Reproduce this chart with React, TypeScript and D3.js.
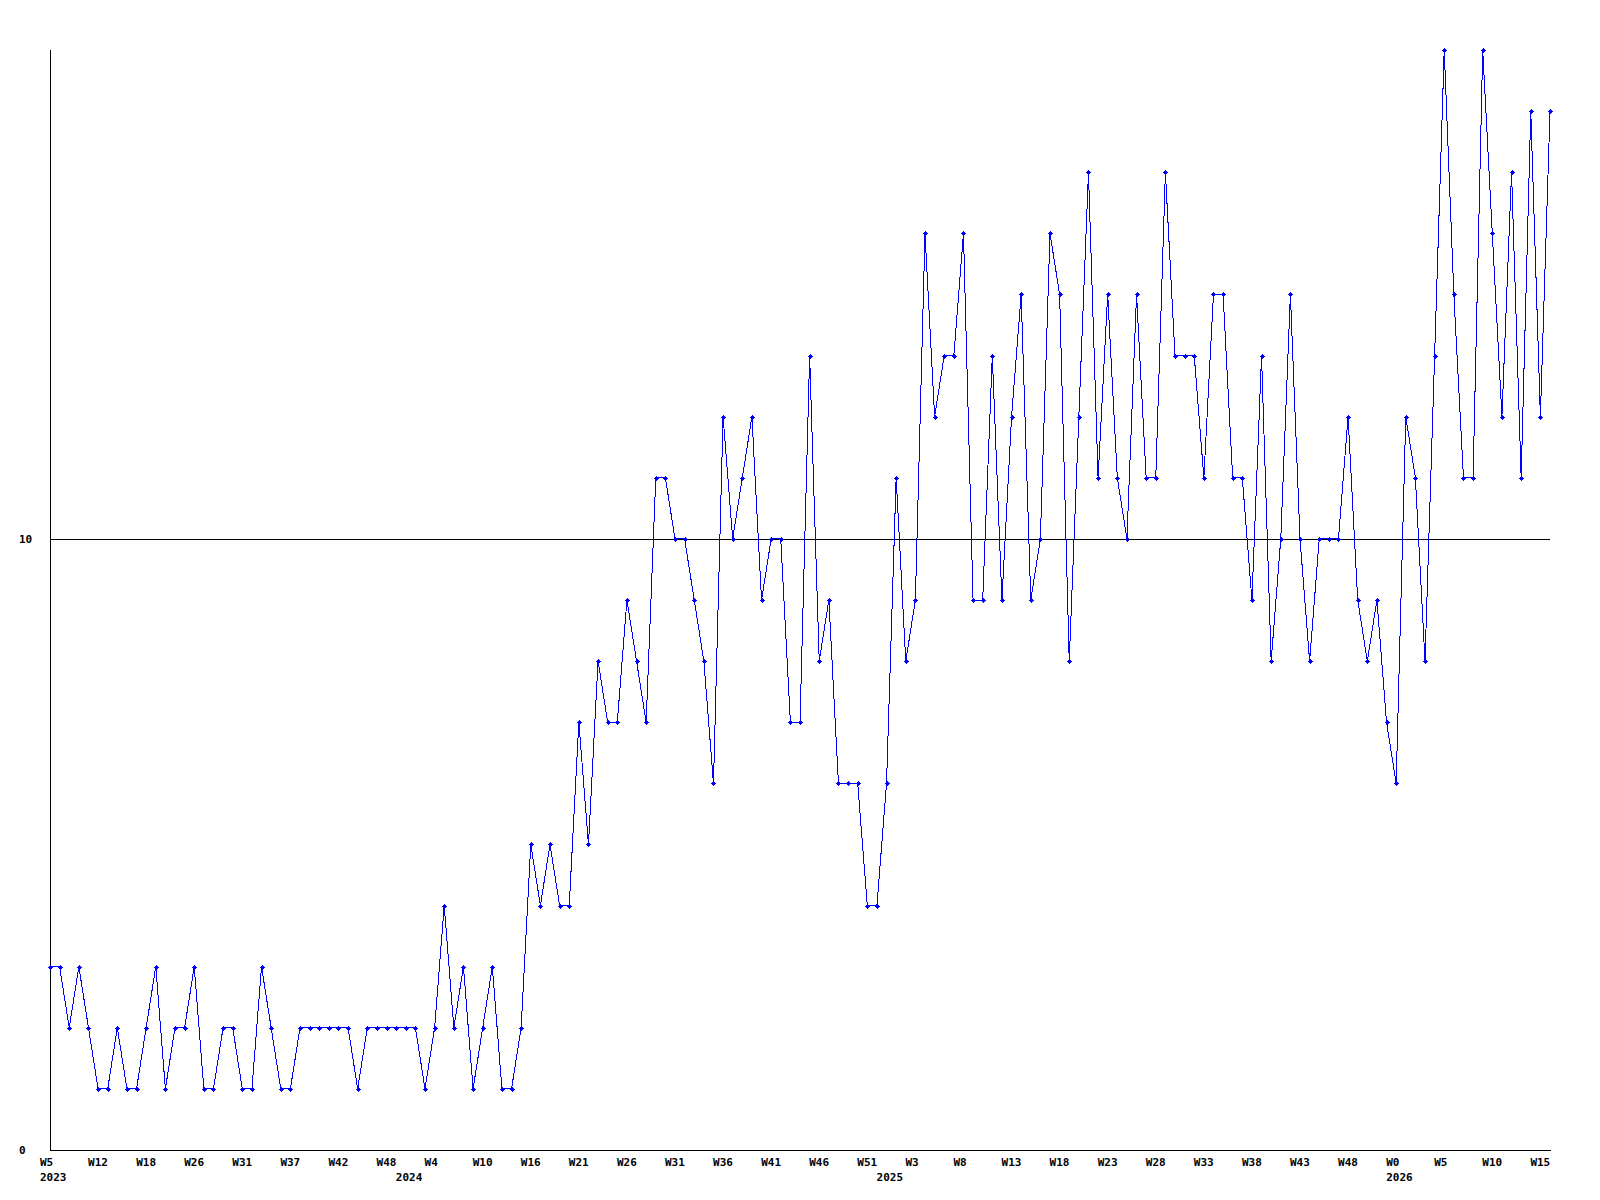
import React from "react";
import * as d3 from "d3";

const values: number[] = [
  3, 3, 2, 3, 2, 1, 1, 2, 1, 1, 2, 3, 1, 2, 2, 3, 1, 1, 2, 2,
  1, 1, 3, 2, 1, 1, 2, 2, 2, 2, 2, 2, 1, 2, 2, 2, 2, 2, 2, 1,
  2, 4, 2, 3, 1, 2, 3, 1, 1, 2,
  5, 4, 5, 4, 4, 7, 5, 8, 7, 7, 9, 8, 7, 11, 11, 10, 10, 9, 8, 6,
  12, 10, 11, 12, 9, 10, 10, 7, 7, 13, 8, 9, 6, 6, 6, 4, 4, 6, 11,
  8, 9, 15, 12, 13, 13, 15, 9, 9, 13, 9, 12, 14, 9, 10, 15, 14, 8, 12, 16,
  11, 14, 11, 10, 14, 11, 11, 16, 13, 13, 13, 11, 14, 14, 11, 11, 9, 13, 8,
  10, 14, 10, 8, 10, 10, 10, 12, 9, 8, 9, 7, 6, 12, 11, 8, 13, 18, 14, 11,
  11, 18, 15, 12, 16, 11, 17, 12, 17,
];

const weekLabels: string[] = [
  "W5", "W12", "W18", "W26", "W31", "W37", "W42", "W48", "W4", "W10", "W16",
  "W21", "W26", "W31", "W36", "W41", "W46", "W51", "W3", "W8", "W13", "W18",
  "W23", "W28", "W33", "W38", "W43", "W48", "W0", "W5", "W10", "W15",
];
const weekLabelStep = 5;

const yearLabels: string[] = ["2023", "2024", "2025", "2026"];
const yearIndices: number[] = [0, 37, 87, 140];

const yTicks: number[] = [0, 10];
const yMax = 18;

const W = 1600;
const H = 1200;
const left = 50;
const right = 1550;
const top = 50;
const bottom = 1150;

export default function App() {
  const x = d3.scaleLinear().domain([0, values.length - 1]).range([left, right]);
  const y = d3.scaleLinear().domain([0, yMax]).range([bottom, top]);
  const line = d3
    .line<number>()
    .x((_, i) => x(i))
    .y((d) => y(d));

  const font = "'DejaVu Sans Mono', monospace";

  return (
    <svg
      width={W}
      height={H}
      style={{ position: "absolute", left: 0, top: 0, background: "#fff" }}
    >
      <rect x={0} y={0} width={W} height={H} fill="#fff" />
      {/* horizontal reference line at 10 */}
      <line
        x1={left}
        x2={right}
        y1={Math.round(y(10)) + 0.5}
        y2={Math.round(y(10)) + 0.5}
        stroke="#000"
        strokeWidth={1}
        shapeRendering="crispEdges"
      />
      {/* axes */}
      <line x1={left + 0.5} x2={left + 0.5} y1={top} y2={bottom + 1} stroke="#000" shapeRendering="crispEdges" />
      <line x1={left} x2={right + 1} y1={bottom + 0.5} y2={bottom + 0.5} stroke="#000" shapeRendering="crispEdges" />

      {yTicks.map((t) => (
        <text
          key={t}
          x={19}
          y={y(t) + 4}
          fontFamily={font}
          fontWeight="bold"
          fontSize={11}
          fill="#000"
        >
          {t}
        </text>
      ))}

      {weekLabels.map((lab, k) => (
        <text
          key={"w" + k}
          x={x(k * weekLabelStep) - 10}
          y={1166}
          fontFamily={font}
          fontWeight="bold"
          fontSize={11}
          fill="#000"
        >
          {lab}
        </text>
      ))}
      {yearLabels.map((lab, k) => (
        <text
          key={"y" + k}
          x={x(yearIndices[k]) - 10}
          y={1181}
          fontFamily={font}
          fontWeight="bold"
          fontSize={11}
          fill="#000"
        >
          {lab}
        </text>
      ))}

      <path
        d={line(values) || ""}
        fill="none"
        stroke="#0000ff"
        strokeWidth={1}
        shapeRendering="crispEdges"
      />
      {values.map((v, i) => {
        const cx = Math.round(x(i));
        const cy = Math.round(y(v));
        return (
          <g key={i} fill="#0000ff" shapeRendering="crispEdges">
            <rect x={cx - 1} y={cy - 1} width={3} height={3} />
            <rect x={cx - 2} y={cy} width={5} height={1} />
            <rect x={cx} y={cy - 2} width={1} height={5} />
          </g>
        );
      })}
    </svg>
  );
}
